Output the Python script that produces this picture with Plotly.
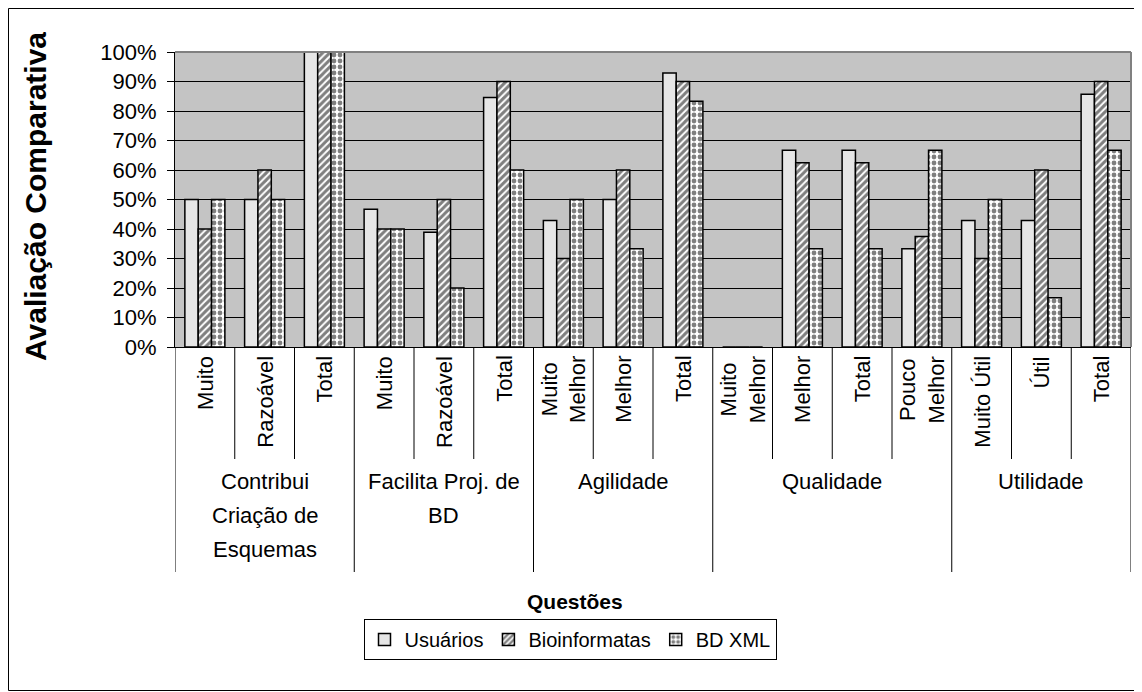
import plotly.graph_objects as go

# ---- data ----
group_lines = [["Contribui", "Criação de", "Esquemas"],
               ["Facilita Proj. de", "BD"],
               ["Agilidade"],
               ["Qualidade"],
               ["Utilidade"]]
group_sizes = [3, 3, 3, 4, 3]
sub_labels = ["Muito", "Razoável", "Total",
              "Muito", "Razoável", "Total",
              "Muito<br>Melhor", "Melhor", "Total",
              "Muito<br>Melhor", "Melhor", "Total", "Pouco<br>Melhor",
              "Muito Útil", "Útil", "Total"]
usuarios = [50, 50, 100, 46.7, 38.9, 84.6, 42.9, 50, 92.9, 0, 66.7, 66.7, 33.3, 42.9, 42.9, 85.7]
bioinformatas = [40, 60, 100, 40, 50, 90, 30, 60, 90, 0, 62.5, 62.5, 37.5, 30, 60, 90]
bd_xml = [50, 50, 100, 40, 20, 60, 50, 33.3, 83.3, 0, 33.3, 33.3, 66.7, 50, 16.7, 66.7]
y_ticks = [0, 10, 20, 30, 40, 50, 60, 70, 80, 90, 100]
y_tick_text = [f"{v}%" for v in y_ticks]

# ---- geometry helpers (page pixels -> paper) ----
OFF = 8                      # page body margin
W, H = 1142 - OFF, 692 - OFF
PL, PR, PT, PB = 175, 1131, 52, 347   # plot area in page pixels
L, T = PL - OFF, PT - OFF
R, B = W - (PR - OFF), H - (PB - OFF)
PW, PH = W - L - R, H - T - B
def px(xp):
    return (xp - OFF - L) / PW
def py(yp):
    return (PB - yp) / PH

FONT = "Liberation Sans, Arial, sans-serif"
x = list(range(len(sub_labels)))
line_style = dict(color="black", width=1.5)

fig = go.Figure()
fig.add_trace(go.Bar(x=x, y=usuarios, name="Usuários",
                     marker=dict(color="#E6E6E6", line=line_style)))
fig.add_trace(go.Bar(x=x, y=bioinformatas, name="Bioinformatas",
                     marker=dict(color="white", line=line_style,
                                 pattern=dict(shape="/", fgcolor="black", bgcolor="white",
                                              size=5, solidity=0.6))))
fig.add_trace(go.Bar(x=x, y=bd_xml, name="BD XML",
                     marker=dict(color="white", line=line_style,
                                 pattern=dict(shape=".", fgcolor="black", bgcolor="white",
                                              size=6, solidity=0.5))))

annotations = []
shapes = []
# sub-category labels
for i, lab in enumerate(sub_labels):
    annotations.append(dict(x=i, xref="x", y=py(354), yref="paper", text=lab,
                            textangle=-90, showarrow=False, xanchor="center", yanchor="top",
                            font=dict(family=FONT, size=22, color="black")))
# group labels and dividers
start = 0
bounds = [-0.5]
for lines, n in zip(group_lines, group_sizes):
    center = start + (n - 1) / 2
    for k, ln in enumerate(lines):
        annotations.append(dict(x=center, xref="x", y=py(481 + 34 * k), yref="paper", text=ln,
                                showarrow=False, xanchor="center", yanchor="middle",
                                font=dict(family=FONT, size=22, color="black")))
    for j in range(1, n):
        shapes.append(dict(type="line", xref="x", yref="paper",
                           x0=start + j - 0.5, x1=start + j - 0.5, y0=0, y1=py(459),
                           line=dict(color="black", width=1)))
    start += n
    bounds.append(start - 0.5)
for b in bounds:
    shapes.append(dict(type="line", xref="x", yref="paper", x0=b, x1=b, y0=0, y1=py(572),
                       line=dict(color="black", width=1)))
# plot area top/right gray frame
shapes.append(dict(type="line", xref="paper", yref="paper", x0=0, x1=1, y0=1, y1=1,
                   line=dict(color="#808080", width=2)))
shapes.append(dict(type="line", xref="paper", yref="paper", x0=1, x1=1, y0=0, y1=1,
                   line=dict(color="#808080", width=2)))
# outer chart border
shapes.append(dict(type="rect", xref="paper", yref="paper",
                   x0=px(8.5), x1=px(1140.5), y0=py(690.5), y1=py(8.5),
                   line=dict(color="black", width=1)))

# axis titles
annotations.append(dict(x=px(35), y=py(197), xref="paper", yref="paper",
                        text="<b>Avaliação Comparativa</b>", textangle=-90, showarrow=False,
                        xanchor="center", yanchor="middle",
                        font=dict(family=FONT, size=30, color="black")))
annotations.append(dict(x=px(575), y=py(601), xref="paper", yref="paper",
                        text="<b>Questões</b>", showarrow=False,
                        xanchor="center", yanchor="middle",
                        font=dict(family=FONT, size=21, color="black")))

fig.update_layout(
    width=W, height=H,
    margin=dict(l=L, r=R, t=T, b=B, autoexpand=False),
    paper_bgcolor="white", plot_bgcolor="#C4C4C4",
    barmode="group", bargap=0.33, bargroupgap=0,
    font=dict(family=FONT, color="black"),
    showlegend=True,
    legend=dict(orientation="h", x=px(570), xanchor="center", y=py(619), yanchor="top",
                bordercolor="black", borderwidth=1, bgcolor="white",
                font=dict(family=FONT, size=20, color="black"),
                itemwidth=30, traceorder="normal"),
    annotations=annotations, shapes=shapes,
)
fig.update_xaxes(range=[-0.5, len(sub_labels) - 0.5], showticklabels=False, ticks="",
                 showgrid=False, zeroline=False, showline=True, linecolor="black", linewidth=1)
fig.update_yaxes(range=[0, 100], tickvals=y_ticks, ticktext=y_tick_text,
                 ticks="outside", ticklen=7,
                 tickcolor="black", showgrid=True, gridcolor="black", gridwidth=1,
                 zeroline=False, showline=True, linecolor="black", linewidth=1,
                 ticklabelstandoff=6,
                 tickfont=dict(family=FONT, size=22, color="black"))

fig.write_html("out.html")
